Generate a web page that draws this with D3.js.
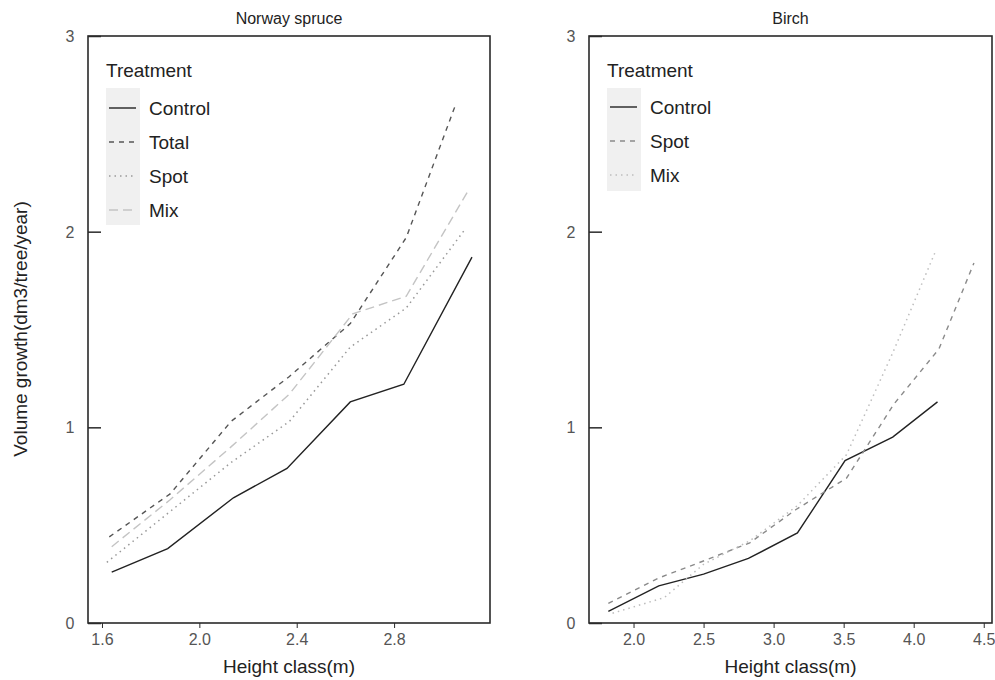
<!DOCTYPE html>
<html>
<head>
<meta charset="utf-8">
<script src="https://cdn.jsdelivr.net/npm/d3@7"></script>
<style>
  body { margin: 0; background: #fff; }
  svg text { font-family: "Liberation Sans", Arial, sans-serif; }
</style>
</head>
<body>
<div id="chart"></div>
<script>
// Norway spruce
var spruceControlX = [1.64, 1.87, 2.14, 2.36, 2.62, 2.84, 3.12];
var spruceControlY = [0.26, 0.38, 0.64, 0.79, 1.13, 1.22, 1.87];
var spruceTotalX = [1.63, 1.88, 2.13, 2.37, 2.62, 2.85, 3.05];
var spruceTotalY = [0.44, 0.66, 1.03, 1.26, 1.53, 1.97, 2.64];
var spruceSpotX = [1.62, 1.87, 2.13, 2.37, 2.62, 2.85, 3.09];
var spruceSpotY = [0.31, 0.56, 0.82, 1.03, 1.41, 1.61, 2.01];
var spruceMixX = [1.64, 1.88, 2.13, 2.37, 2.63, 2.85, 3.10];
var spruceMixY = [0.39, 0.63, 0.90, 1.17, 1.58, 1.67, 2.20];

// Birch
var birchControlX = [1.82, 2.18, 2.50, 2.82, 3.17, 3.51, 3.85, 4.17];
var birchControlY = [0.06, 0.19, 0.25, 0.33, 0.46, 0.83, 0.95, 1.13];
var birchSpotX = [1.82, 2.18, 2.51, 2.83, 3.16, 3.52, 3.86, 4.18, 4.43];
var birchSpotY = [0.10, 0.23, 0.32, 0.41, 0.58, 0.74, 1.12, 1.40, 1.84];
var birchMixX = [1.85, 2.22, 2.50, 2.83, 3.17, 3.52, 3.85, 4.15];
var birchMixY = [0.05, 0.13, 0.30, 0.42, 0.60, 0.86, 1.38, 1.89];

var yTicks = [0, 1, 2, 3];
var spruceXTicks = [1.6, 2.0, 2.4, 2.8];
var birchXTicks = [2.0, 2.5, 3.0, 3.5, 4.0, 4.5];

var width = 995, height = 680;
var svg = d3.select("#chart").append("svg")
    .attr("width", width)
    .attr("height", height);

var y = d3.scaleLinear().domain([0, 3]).range([623, 36]);

function zip(xs, ys) {
    return xs.map(function (v, i) { return {x: v, y: ys[i]}; });
}

var panels = [
    {
        title: "Norway spruce",
        left: 88, right: 490,
        domain: [1.5426, 3.194],
        ticks: spruceXTicks,
        series: [
            {name: "Control", data: zip(spruceControlX, spruceControlY), color: "#222", dash: null, w: 1.4},
            {name: "Total", data: zip(spruceTotalX, spruceTotalY), color: "#555", dash: "5,5", w: 1.4},
            {name: "Spot", data: zip(spruceSpotX, spruceSpotY), color: "#999", dash: "1.5,4", w: 1.5},
            {name: "Mix", data: zip(spruceMixX, spruceMixY), color: "#c4c4c4", dash: "9,5", w: 1.4}
        ]
    },
    {
        title: "Birch",
        left: 589, right: 992,
        domain: [1.682, 4.559],
        ticks: birchXTicks,
        series: [
            {name: "Control", data: zip(birchControlX, birchControlY), color: "#222", dash: null, w: 1.4},
            {name: "Spot", data: zip(birchSpotX, birchSpotY), color: "#8a8a8a", dash: "5,5", w: 1.4},
            {name: "Mix", data: zip(birchMixX, birchMixY), color: "#bdbdbd", dash: "1.5,4", w: 1.5}
        ]
    }
];

panels.forEach(function (p) {
    var x = d3.scaleLinear().domain(p.domain).range([p.left, p.right]);
    var g = svg.append("g");

    // lines
    var line = d3.line().x(function (d) { return x(d.x); }).y(function (d) { return y(d.y); });
    p.series.forEach(function (s) {
        g.append("path")
            .datum(s.data)
            .attr("d", line)
            .attr("fill", "none")
            .attr("stroke", s.color)
            .attr("stroke-width", s.w)
            .attr("stroke-dasharray", s.dash);
    });

    // frame
    g.append("rect")
        .attr("x", p.left).attr("y", 36)
        .attr("width", p.right - p.left).attr("height", 623 - 36)
        .attr("fill", "none").attr("stroke", "#2a2a2a").attr("stroke-width", 1.6);

    // y axis: inward ticks
    var ya = g.append("g").attr("transform", "translate(" + p.left + ",0)")
        .call(d3.axisRight(y).tickValues(yTicks).tickSize(13).tickPadding(0).tickFormat(""));
    ya.select(".domain").remove();
    ya.selectAll("line").attr("stroke", "#2a2a2a").attr("stroke-width", 1.5);
    g.selectAll(".ylab").data(yTicks).enter().append("text")
        .attr("x", p.left - 18).attr("y", function (d) { return y(d) + 6; })
        .attr("text-anchor", "middle")
        .attr("fill", "#555").style("font-size", "16px")
        .text(function (d) { return d; });

    // x axis
    var xa = g.append("g").attr("transform", "translate(0,623)")
        .call(d3.axisBottom(x).tickValues(p.ticks).tickSize(5).tickPadding(6)
            .tickFormat(d3.format(".1f")));
    xa.select(".domain").remove();
    xa.selectAll("line").attr("stroke", "#2a2a2a");
    xa.selectAll("text").attr("fill", "#555").style("font-size", "16px")
        .style("font-family", "'Liberation Sans', Arial, sans-serif");

    g.append("text")
        .attr("x", (p.left + p.right) / 2).attr("y", 673)
        .attr("text-anchor", "middle").attr("fill", "#222")
        .style("font-size", "19px")
        .text("Height class(m)");

    g.append("text")
        .attr("x", (p.left + p.right) / 2).attr("y", 24)
        .attr("text-anchor", "middle").attr("fill", "#222")
        .style("font-size", "16px")
        .text(p.title);

    // legend
    var lx = p.left + 18;
    g.append("text")
        .attr("x", lx).attr("y", 77)
        .attr("fill", "#222").style("font-size", "19px")
        .text("Treatment");
    g.append("rect")
        .attr("x", lx).attr("y", 88)
        .attr("width", 34).attr("height", p.series.length * 34 + 1)
        .attr("fill", "#f0f0f0");
    p.series.forEach(function (s, i) {
        var ly = 108 + i * 34 - (p.title === "Birch" ? 1 : 0);
        g.append("line")
            .attr("x1", lx + 3).attr("x2", lx + 30)
            .attr("y1", ly).attr("y2", ly)
            .attr("stroke", s.color).attr("stroke-width", s.w)
            .attr("stroke-dasharray", s.dash);
        g.append("text")
            .attr("x", lx + 43).attr("y", ly + 7)
            .attr("fill", "#222").style("font-size", "19px")
            .text(s.name);
    });
});

svg.append("text")
    .attr("transform", "translate(27,329) rotate(-90)")
    .attr("text-anchor", "middle").attr("fill", "#222")
    .style("font-size", "19px")
    .text("Volume growth(dm3/tree/year)");
</script>
</body>
</html>
